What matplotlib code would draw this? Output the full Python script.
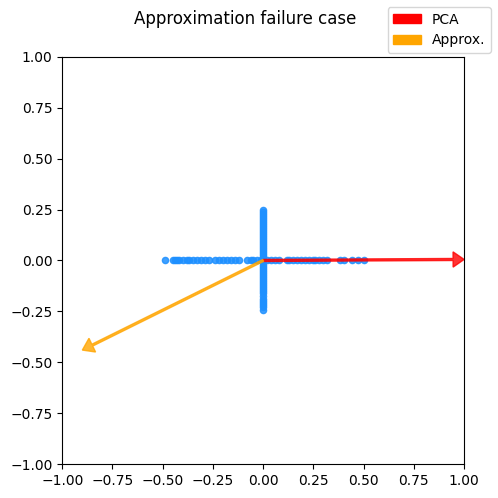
import numpy as np
import matplotlib.pyplot as plt
from matplotlib.patches import Patch

# points lying on the x axis
h_x = [-0.49, -0.45, -0.44, -0.43, -0.42, -0.40, -0.38, -0.37, -0.35, -0.33,
       -0.31, -0.29, -0.27, -0.24, -0.22, -0.20, -0.18, -0.16, -0.14, -0.12,
       -0.08, -0.06, -0.05, -0.03, -0.01,
       0.02, 0.04, 0.06, 0.08, 0.12, 0.13, 0.15, 0.17, 0.19, 0.21, 0.23,
       0.25, 0.26, 0.28, 0.30, 0.32, 0.38, 0.40, 0.44, 0.47, 0.50]
# points lying on the y axis
v_y = [-0.245, -0.23, -0.22, -0.21, -0.20, -0.19, -0.175, -0.16, -0.15, -0.14,
       -0.13, -0.12, -0.11, -0.10, -0.09, -0.08, -0.07, -0.06, -0.05, -0.04,
       -0.03, -0.02, -0.01, 0.01, 0.02, 0.03, 0.04, 0.05, 0.06, 0.07, 0.08,
       0.09, 0.10, 0.11, 0.12, 0.13, 0.14, 0.15, 0.16, 0.17, 0.18, 0.19,
       0.20, 0.21, 0.22, 0.23, 0.24, 0.25]

pca_dir = (1.0, 0.005)
approx_dir = (-0.9, -0.44)

fig = plt.figure(figsize=(4.98, 4.98), dpi=100)
ax = fig.add_axes([0.125, 0.068, 0.807, 0.818])

ax.scatter(h_x, np.zeros(len(h_x)), s=20, color='dodgerblue', alpha=0.85)
ax.scatter(np.zeros(len(v_y)), v_y, s=20, color='dodgerblue', alpha=0.85)

ax.arrow(0, 0, pca_dir[0], pca_dir[1], width=0.01, head_width=0.075,
         head_length=0.055, length_includes_head=True, color='red', alpha=0.8)
ax.arrow(0, 0, approx_dir[0], approx_dir[1], width=0.01, head_width=0.075,
         head_length=0.055, length_includes_head=True, color='orange', alpha=0.8)

ax.set_xlim(-1, 1)
ax.set_ylim(-1, 1)

fig.suptitle('Approximation failure case', x=0.492)
fig.legend(handles=[Patch(color='red', label='PCA'),
                    Patch(color='orange', label='Approx.')],
           loc='upper right')

plt.savefig('out.png')
